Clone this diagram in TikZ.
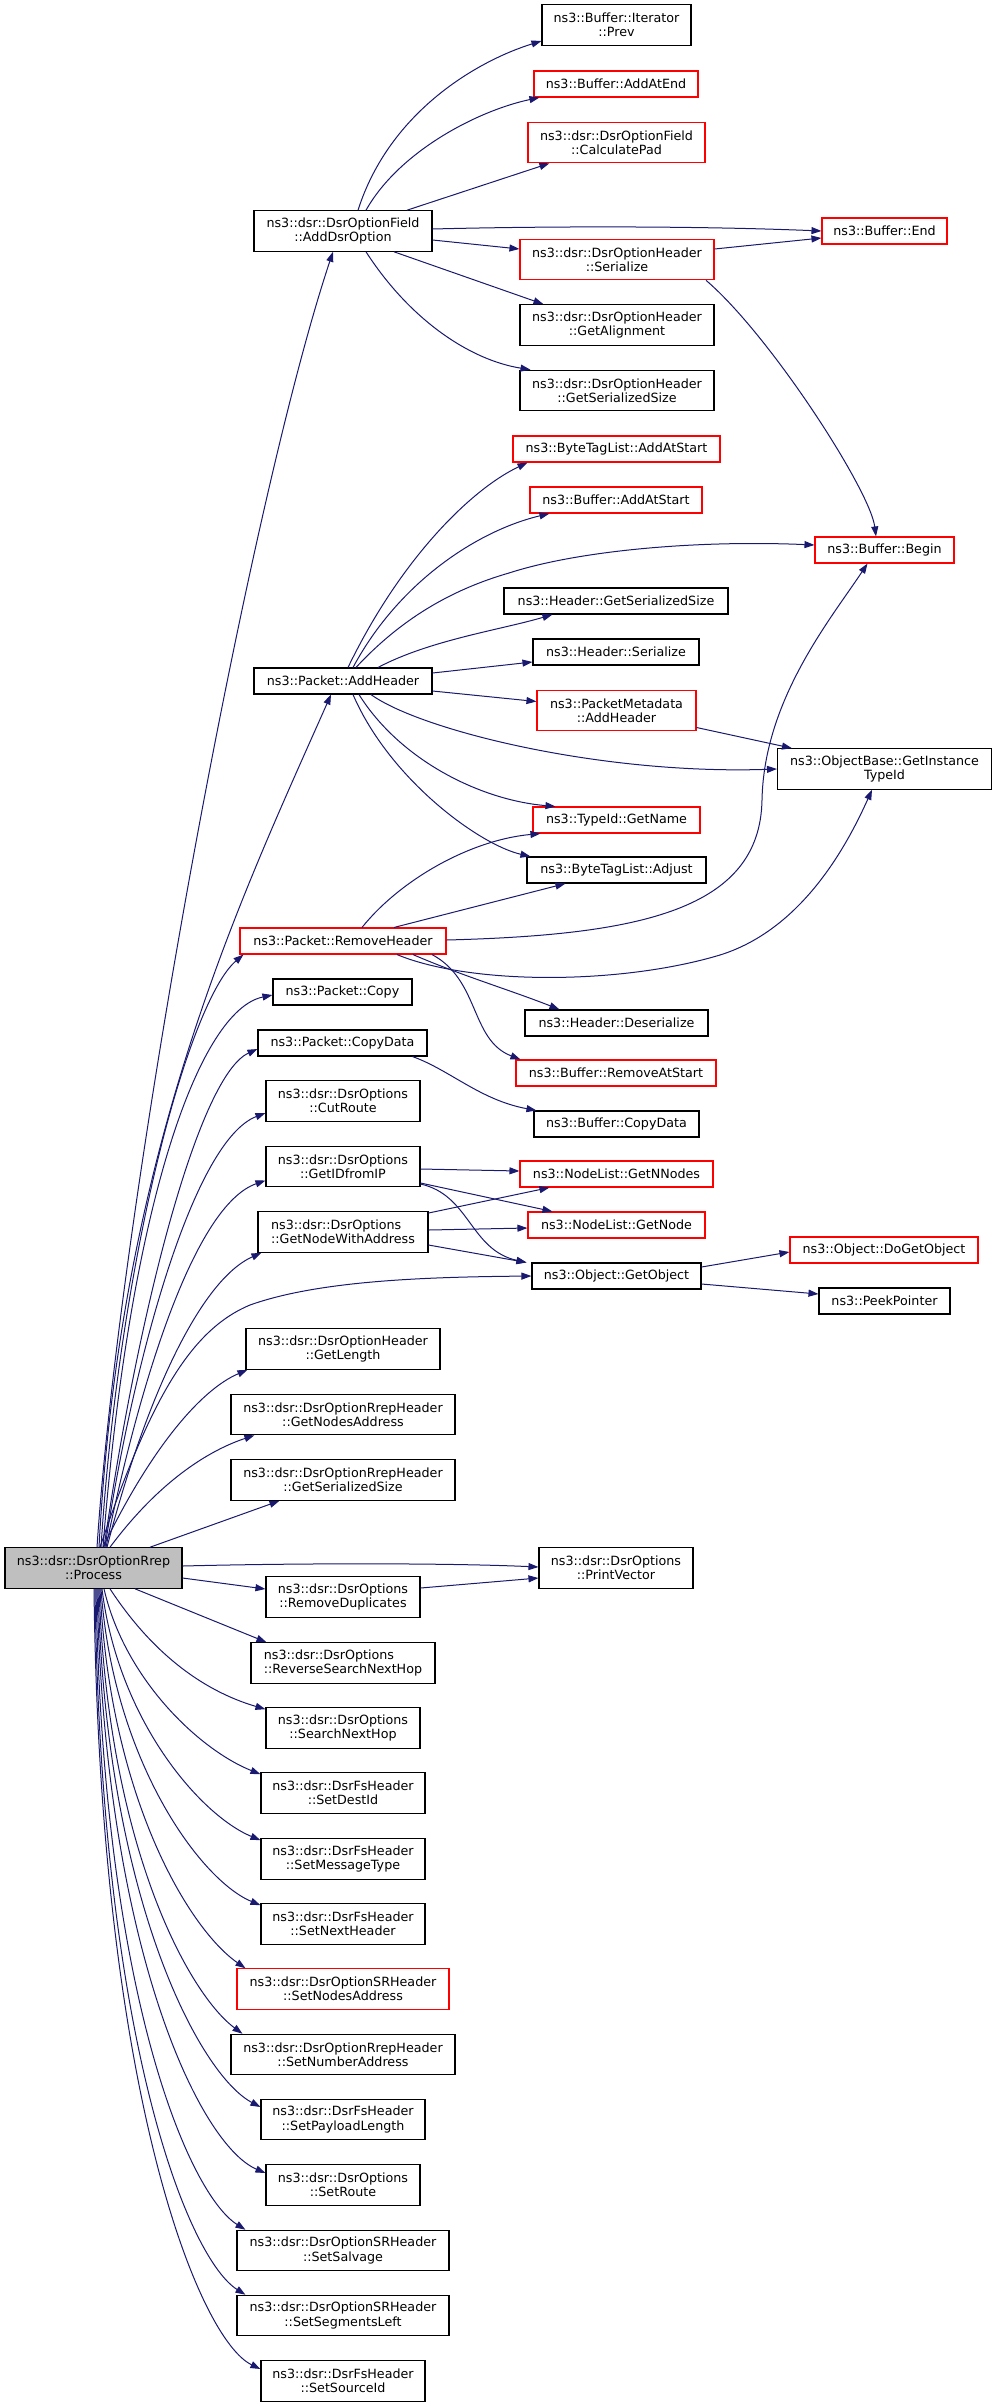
\documentclass[tikz,border=0pt]{standalone}
\usepackage{fontspec}
\setmainfont{DejaVu Sans}
\usetikzlibrary{arrows.meta}
\definecolor{edgeblue}{HTML}{191970}
\definecolor{procgray}{HTML}{BFBFBF}
\definecolor{boxred}{HTML}{FF0000}
\begin{document}
\begin{tikzpicture}[x=1pt,y=-1pt,
  box/.style={draw=black, fill=white, line width=1.1pt, inner sep=0pt, align=center,
    font=\fontsize{12.7}{14.3}\selectfont, minimum height=26pt},
  redbox/.style={box, draw=boxred},
  tall/.style={minimum height=40.5pt},
  lft/.style={align=left},
  edge/.style={draw=edgeblue, line width=1pt, -{Triangle[length=10pt,width=7pt]}}
]
\useasboundingbox (0,0) rectangle (992,2407);
\fill[white] (0,0) rectangle (992,2407);

% ---- nodes ----
\node[box,tall,minimum width=149pt] (prev) at (616.5,25) {ns3::Buffer::Iterator\\::Prev};
\node[redbox,minimum width=164pt] (addatend) at (616,84) {ns3::Buffer::AddAtEnd};
\node[redbox,tall,minimum width=177pt] (calcpad) at (616.5,142.5) {ns3::dsr::DsrOptionField\\::CalculatePad};
\node[box,tall,minimum width=178pt] (adddsr) at (343,231) {ns3::dsr::DsrOptionField\\::AddDsrOption};
\node[redbox,minimum width=125pt] (bufend) at (884.5,231) {ns3::Buffer::End};
\node[redbox,tall,minimum width=194pt] (ohser) at (617,259.5) {ns3::dsr::DsrOptionHeader\\::Serialize};
\node[box,tall,minimum width=194pt] (ohalign) at (617,325) {ns3::dsr::DsrOptionHeader\\::GetAlignment};
\node[box,tall,minimum width=194pt] (ohsize) at (617,390.5) {ns3::dsr::DsrOptionHeader\\::GetSerializedSize};
\node[redbox,minimum width=207pt] (btlstart) at (616.5,449) {ns3::ByteTagList::AddAtStart};
\node[redbox,minimum width=172pt] (bufstart) at (616,500) {ns3::Buffer::AddAtStart};
\node[redbox,minimum width=139pt] (bufbegin) at (884.5,550) {ns3::Buffer::Begin};
\node[box,minimum width=224pt] (hdrsize) at (616,601) {ns3::Header::GetSerializedSize};
\node[box,minimum width=166pt] (hdrser) at (616,652) {ns3::Header::Serialize};
\node[box,minimum width=178pt] (addhdr) at (343,681) {ns3::Packet::AddHeader};
\node[redbox,tall,minimum width=159pt] (pmaddhdr) at (616.5,710.5) {ns3::PacketMetadata\\::AddHeader};
\node[box,tall,minimum width=214pt] (instid) at (884.5,769) {ns3::ObjectBase::GetInstance\\TypeId};
\node[redbox,minimum width=167pt] (getname) at (616.5,820) {ns3::TypeId::GetName};
\node[box,minimum width=179pt] (btladj) at (616.5,870) {ns3::ByteTagList::Adjust};
\node[redbox,minimum width=206pt] (rmhdr) at (343,941) {ns3::Packet::RemoveHeader};
\node[box,minimum width=139pt] (pcopy) at (342.5,992) {ns3::Packet::Copy};
\node[box,minimum width=183pt] (hdrdeser) at (616.5,1023) {ns3::Header::Deserialize};
\node[box,minimum width=169pt] (pcopydata) at (342.5,1043) {ns3::Packet::CopyData};
\node[redbox,minimum width=200pt] (bufrm) at (616,1073) {ns3::Buffer::RemoveAtStart};
\node[box,tall,minimum width=154pt] (cutroute) at (343,1101) {ns3::dsr::DsrOptions\\::CutRoute};
\node[box,minimum width=165pt] (bufcopy) at (616.5,1124) {ns3::Buffer::CopyData};
\node[box,tall,minimum width=154pt] (getid) at (343,1166.5) {ns3::dsr::DsrOptions\\::GetIDfromIP};
\node[redbox,minimum width=193pt] (getnn) at (616.5,1174) {ns3::NodeList::GetNNodes};
\node[box,tall,lft,minimum width=170pt] (getnwa) at (343,1232) {ns3::dsr::DsrOptions\\::GetNodeWithAddress};
\node[redbox,minimum width=177pt] (getnode) at (616.5,1225) {ns3::NodeList::GetNode};
\node[redbox,minimum width=188pt] (dogetobj) at (884,1250) {ns3::Object::DoGetObject};
\node[box,minimum width=169pt] (getobj) at (616.5,1276) {ns3::Object::GetObject};
\node[box,minimum width=131pt] (peek) at (884.5,1301) {ns3::PeekPointer};
\node[box,tall,minimum width=194pt] (getlen) at (343,1349) {ns3::dsr::DsrOptionHeader\\::GetLength};
\node[box,tall,minimum width=224pt] (getnaddr) at (343,1414.5) {ns3::dsr::DsrOptionRrepHeader\\::GetNodesAddress};
\node[box,tall,minimum width=224pt] (rrepsize) at (343,1480) {ns3::dsr::DsrOptionRrepHeader\\::GetSerializedSize};
\node[box,tall,fill=procgray,minimum width=177pt] (process) at (93.5,1568) {ns3::dsr::DsrOptionRrep\\::Process};
\node[box,tall,minimum width=154pt] (printvec) at (616,1568) {ns3::dsr::DsrOptions\\::PrintVector};
\node[box,tall,minimum width=154pt] (rmdup) at (343,1597) {ns3::dsr::DsrOptions\\::RemoveDuplicates};
\node[box,tall,lft,minimum width=184pt] (revsearch) at (343,1663) {ns3::dsr::DsrOptions\\::ReverseSearchNextHop};
\node[box,tall,minimum width=154pt] (search) at (343,1728) {ns3::dsr::DsrOptions\\::SearchNextHop};
\node[box,tall,minimum width=164pt] (setdest) at (343,1793) {ns3::dsr::DsrFsHeader\\::SetDestId};
\node[box,tall,minimum width=164pt] (setmsg) at (343,1859) {ns3::dsr::DsrFsHeader\\::SetMessageType};
\node[box,tall,minimum width=164pt] (setnext) at (343,1924) {ns3::dsr::DsrFsHeader\\::SetNextHeader};
\node[redbox,tall,minimum width=212pt] (setnodes) at (343,1989) {ns3::dsr::DsrOptionSRHeader\\::SetNodesAddress};
\node[box,tall,minimum width=224pt] (setnum) at (343,2054.5) {ns3::dsr::DsrOptionRrepHeader\\::SetNumberAddress};
\node[box,tall,minimum width=164pt] (setpay) at (343,2119.5) {ns3::dsr::DsrFsHeader\\::SetPayloadLength};
\node[box,tall,minimum width=154pt] (setroute) at (343,2185) {ns3::dsr::DsrOptions\\::SetRoute};
\node[box,tall,minimum width=212pt] (setsalv) at (343,2250.5) {ns3::dsr::DsrOptionSRHeader\\::SetSalvage};
\node[box,tall,minimum width=212pt] (setseg) at (343,2315.5) {ns3::dsr::DsrOptionSRHeader\\::SetSegmentsLeft};
\node[box,tall,minimum width=164pt] (setsrc) at (343,2381) {ns3::dsr::DsrFsHeader\\::SetSourceId};

% ---- edges from Process (upwards) ----
\draw[edge] ([xshift=3.5pt]process.north) .. controls (120,1200) and (250,500) .. ([xshift=-10pt]adddsr.south);
\draw[edge] ([xshift=5.5pt]process.north) .. controls (120,1150) and (240,900) .. ([xshift=-12pt]addhdr.south);
\draw[edge] ([xshift=7.5pt]process.north) .. controls (120,1250) and (190,1000) .. ([xshift=4pt]rmhdr.south west);
\draw[edge] ([xshift=9.5pt]process.north) .. controls (130,1200) and (200,1010) .. ([yshift=-3pt]pcopy.west);
\draw[edge] ([xshift=10.5pt]process.north) .. controls (140,1300) and (200,1075) .. ([yshift=-6pt]pcopydata.west);
\draw[edge] ([xshift=11.5pt]process.north) .. controls (135,1350) and (195,1140) .. ([yshift=-12pt]cutroute.west);
\draw[edge] ([xshift=12.5pt]process.north) .. controls (140,1380) and (195,1205) .. ([yshift=-14pt]getid.west);
\draw[edge] ([xshift=13.5pt]process.north) .. controls (145,1400) and (200,1280) .. ([xshift=4pt]getnwa.south west);
\draw[edge] ([xshift=6.5pt]process.north) .. controls (150,1400) and (190,1330) .. (250,1305) .. controls (320,1280) and (430,1277) .. (getobj.west);
\draw[edge] ([xshift=9.5pt]process.north) .. controls (150,1450) and (200,1390) .. ([xshift=2pt]getlen.south west);
\draw[edge] ([xshift=16.5pt]process.north) .. controls (160,1480) and (210,1450) .. ([xshift=24pt]getnaddr.south west);
\draw[edge] ([xshift=56.5pt]process.north) -- ([xshift=49pt]rrepsize.south west);
\draw[edge] ([yshift=2pt]process.east) .. controls (300,1563) and (450,1563) .. ([yshift=1pt]printvec.west);
\draw[edge] ([yshift=-10pt]process.east) -- ([yshift=8pt]rmdup.west);

% ---- edges from Process (downwards) ----
\draw[edge] ([xshift=41.5pt]process.south) -- ([xshift=16pt]revsearch.north west);
\draw[edge] ([xshift=16.5pt]process.south) .. controls (150,1650) and (200,1690) .. ([yshift=-2pt]search.north west);
\draw[edge] ([xshift=10.5pt]process.south) .. controls (125,1680) and (200,1750) .. ([yshift=-2pt]setdest.north west);
\draw[edge] ([xshift=8.5pt]process.south) .. controls (118,1720) and (200,1815) .. ([yshift=-2pt]setmsg.north west);
\draw[edge] ([xshift=7.5pt]process.south) .. controls (113,1760) and (200,1880) .. ([yshift=-2pt]setnext.north west);
\draw[edge] ([xshift=6.5pt]process.south) .. controls (110,1800) and (190,1930) .. ([xshift=9pt]setnodes.north west);
\draw[edge] ([xshift=5.5pt]process.south) .. controls (108,1850) and (190,1995) .. ([xshift=12pt]setnum.north west);
\draw[edge] ([xshift=4.5pt]process.south) .. controls (106,1900) and (200,2075) .. ([yshift=12.5pt]setpay.west);
\draw[edge] ([xshift=3.5pt]process.south) .. controls (105,1950) and (200,2145) .. ([yshift=12pt]setroute.west);
\draw[edge] ([xshift=2.5pt]process.south) .. controls (103,2000) and (190,2195) .. ([xshift=9pt]setsalv.north west);
\draw[edge] ([xshift=1.5pt]process.south) .. controls (101,2050) and (190,2260) .. ([xshift=9pt]setseg.north west);
\draw[edge] ([xshift=0.5pt]process.south) .. controls (100,2100) and (200,2340) .. ([yshift=12pt]setsrc.west);

% ---- edges from AddDsrOption ----
\draw[edge] ([xshift=15pt]adddsr.north) .. controls (390,110) and (480,60) .. ([yshift=-16pt]prev.west);
\draw[edge] ([xshift=23pt]adddsr.north) .. controls (400,150) and (480,110) .. ([xshift=6pt]addatend.south west);
\draw[edge] ([xshift=64pt]adddsr.north) -- ([xshift=22pt]calcpad.south west);
\draw[edge] ([yshift=2pt]adddsr.east) .. controls (550,226) and (700,226) .. (bufend.west);
\draw[edge] ([yshift=-9pt]adddsr.east) -- ([yshift=10.5pt]ohser.west);
\draw[edge] ([xshift=51pt]adddsr.south) -- ([xshift=24pt]ohalign.north west);
\draw[edge] ([xshift=23pt]adddsr.south) .. controls (410,320) and (470,360) .. ([xshift=11pt]ohsize.north west);
\draw[edge] ([yshift=10.5pt]ohser.east) -- ([yshift=-7pt]bufend.west);
\draw[edge] ([xshift=89pt]ohser.south) .. controls (770,335) and (870,490) .. ([xshift=-8.5pt]bufbegin.north);

% ---- edges from Packet::AddHeader ----
\draw[edge] ([xshift=5pt]addhdr.north) .. controls (400,560) and (470,490) .. ([xshift=15pt]btlstart.south west);
\draw[edge] ([xshift=10pt]addhdr.north) .. controls (400,580) and (480,530) .. ([xshift=20pt]bufstart.south west);
\draw[edge] ([xshift=13pt]addhdr.north) .. controls (400,620) and (450,590) .. (509,573) .. controls (580,550) and (700,540) .. ([yshift=5pt]bufbegin.west);
\draw[edge] ([xshift=35pt]addhdr.north) .. controls (430,640) and (500,630) .. ([xshift=49pt]hdrsize.south west);
\draw[edge] ([yshift=8pt]addhdr.east) -- ([yshift=-10pt]hdrser.west);
\draw[edge] ([yshift=-10pt]addhdr.east) -- ([yshift=9pt]pmaddhdr.west);
\draw[edge] ([xshift=28pt]addhdr.south) .. controls (420,730) and (600,775) .. (instid.west);
\draw[edge] ([xshift=16pt]addhdr.south) .. controls (400,760) and (480,800) .. ([xshift=23pt]getname.north west);
\draw[edge] ([xshift=10pt]addhdr.south) .. controls (390,780) and (480,845) .. ([xshift=4pt]btladj.north west);
\draw[edge] ([yshift=-17pt]pmaddhdr.east) -- ([xshift=15pt]instid.north west);

% ---- edges from Packet::RemoveHeader ----
\draw[edge] ([xshift=19pt]rmhdr.north) .. controls (400,880) and (470,840) .. ([xshift=8pt]getname.south west);
\draw[edge] ([xshift=51pt]rmhdr.north) -- ([xshift=39pt]btladj.south west);
\draw[edge] ([yshift=1pt]rmhdr.east) .. controls (640,935) and (760,910) .. (762,800) .. controls (764,700) and (830,620) .. ([xshift=-17pt]bufbegin.south);
\draw[edge] ([xshift=54pt]rmhdr.south) .. controls (470,985) and (620,985) .. (720,955) .. controls (800,930) and (845,850) .. ([xshift=-12.5pt]instid.south);
\draw[edge] ([xshift=70pt]rmhdr.south) .. controls (460,975) and (510,990) .. ([xshift=35pt]hdrdeser.north west);
\draw[edge] ([xshift=89pt]rmhdr.south) .. controls (480,980) and (470,1040) .. ([xshift=5pt]bufrm.north west);

% ---- other edges ----
\draw[edge] ([xshift=70pt]pcopydata.south) .. controls (450,1070) and (480,1100) .. ([xshift=3pt]bufcopy.north west);
\draw[edge] ([yshift=-2.5pt]getid.east) -- ([yshift=3pt]getnn.west);
\draw[edge] ([yshift=-16.5pt]getid.east) -- ([xshift=25pt]getnode.north west);
\draw[edge] ([yshift=-17.5pt]getid.east) .. controls (470,1195) and (470,1250) .. ([xshift=-5pt]getobj.north west);
\draw[edge] ([yshift=19pt]getnwa.east) -- ([xshift=30pt]getnn.south west);
\draw[edge] ([yshift=2pt]getnwa.east) -- ([yshift=-3pt]getnode.west);
\draw[edge] ([yshift=-13pt]getnwa.east) -- ([xshift=-5pt]getobj.north west);
\draw[edge] ([yshift=9pt]getobj.east) -- ([yshift=-2pt]dogetobj.west);
\draw[edge] ([yshift=-8pt]getobj.east) -- ([yshift=7pt]peek.west);
\draw[edge] ([yshift=9pt]rmdup.east) -- ([yshift=-10pt]printvec.west);
\end{tikzpicture}
\end{document}
